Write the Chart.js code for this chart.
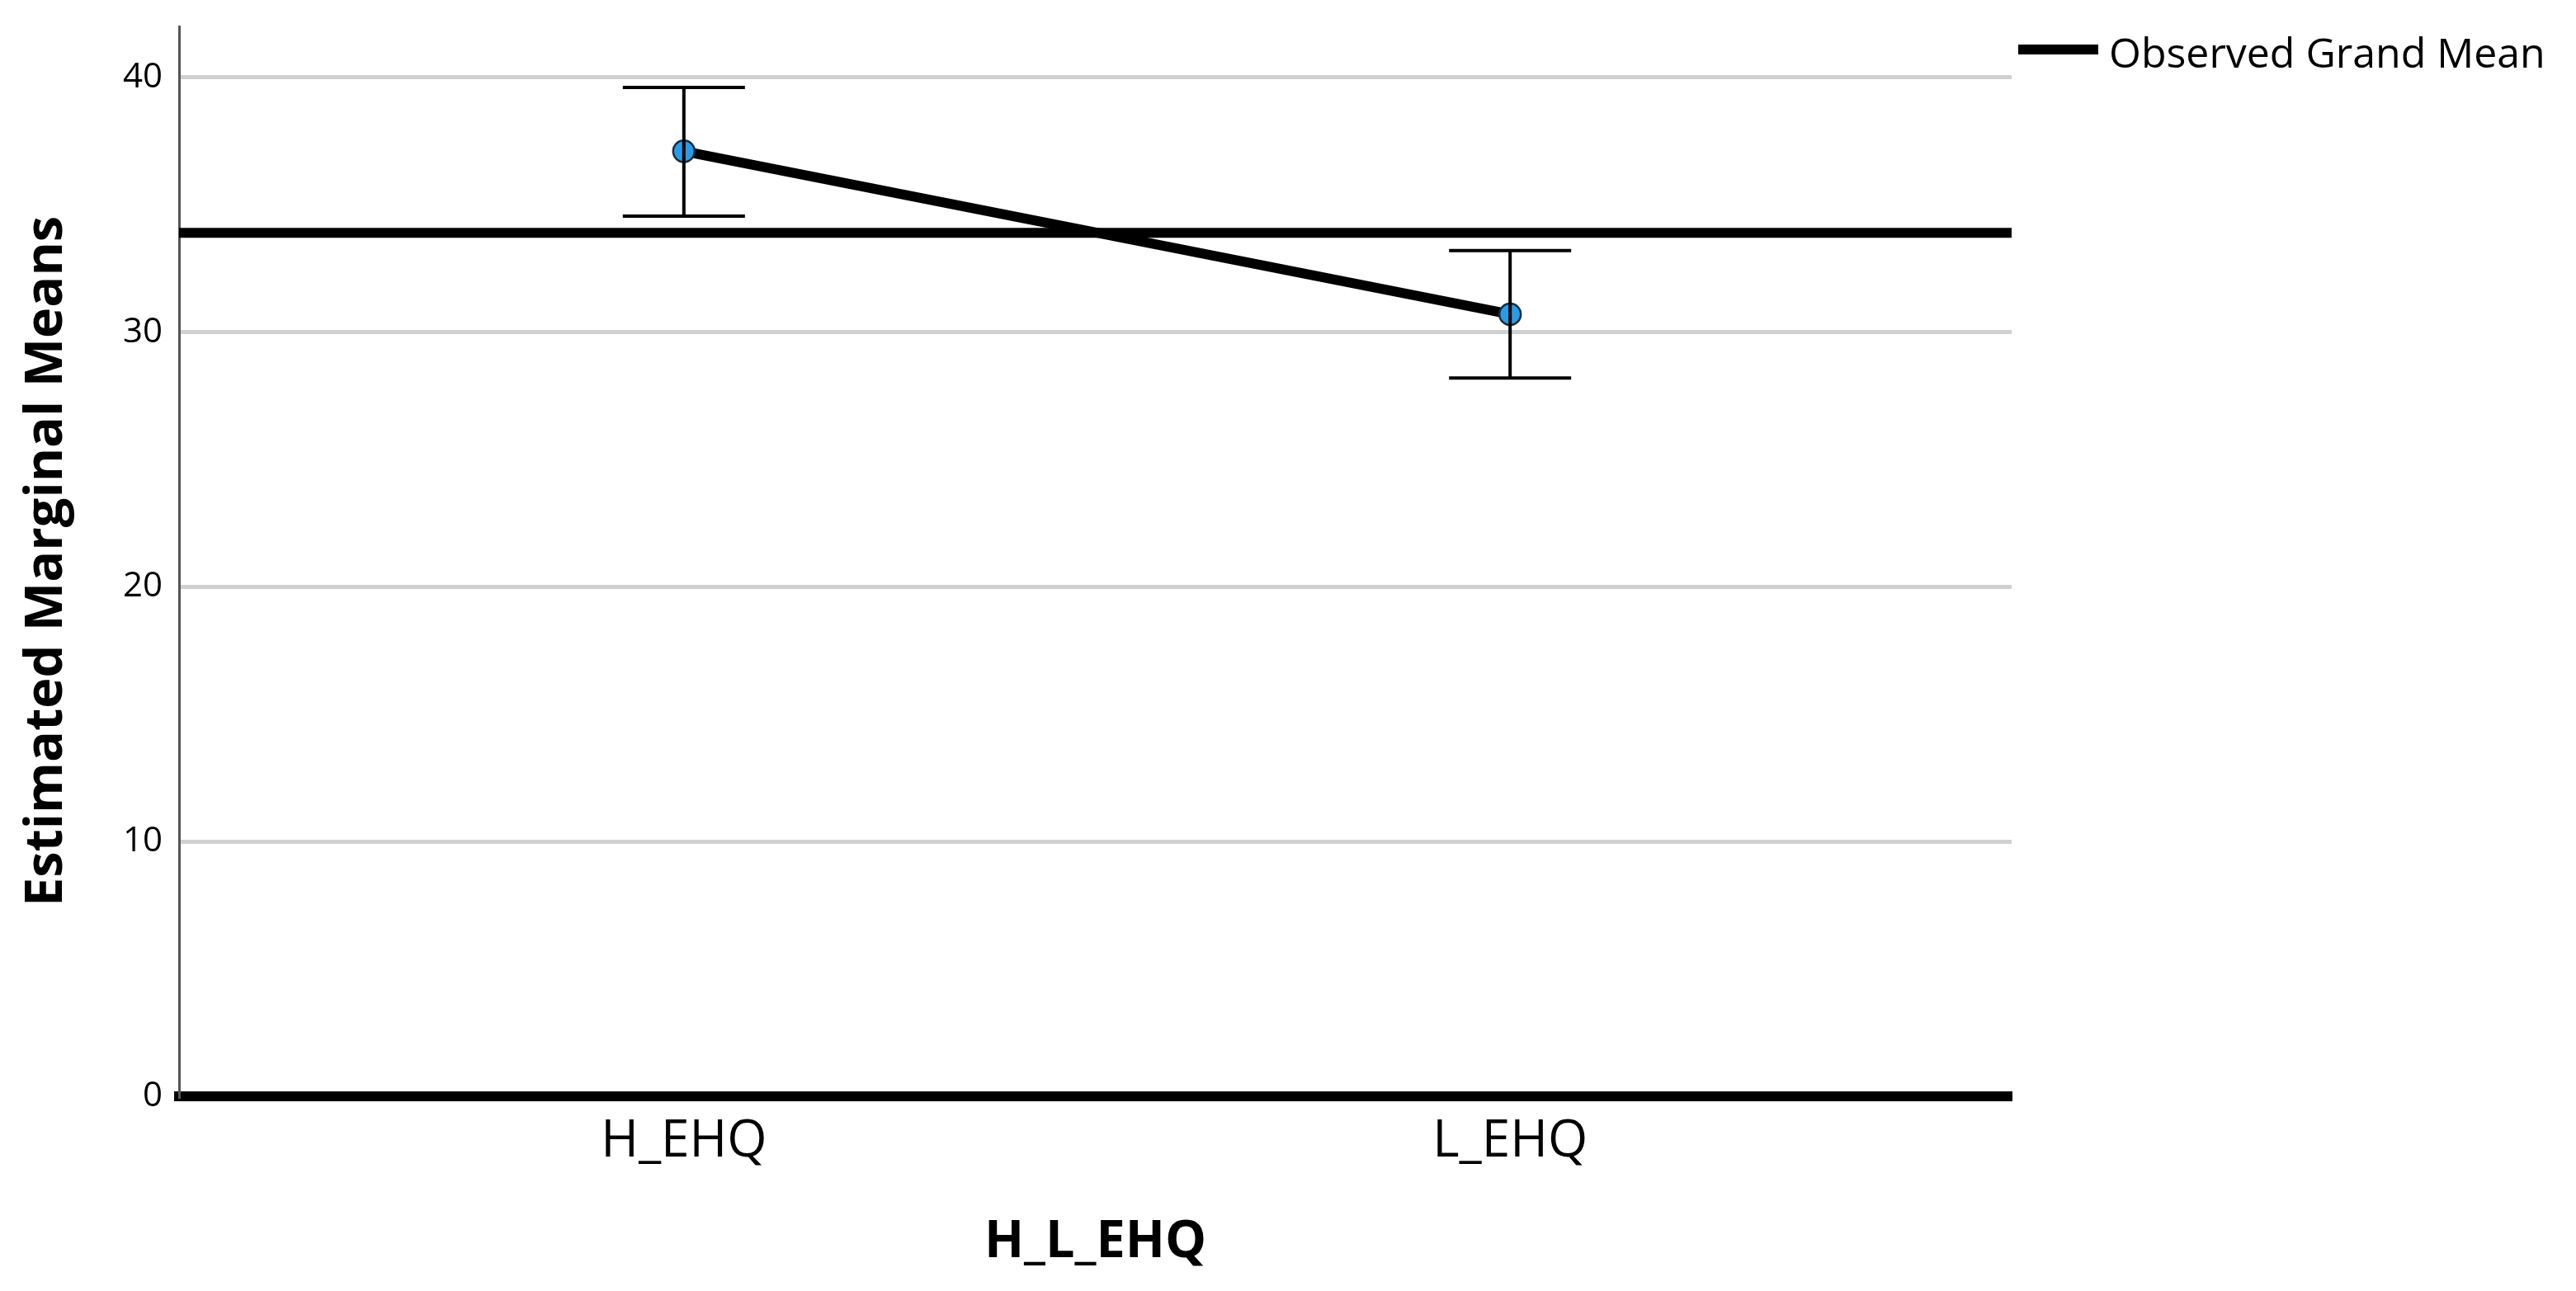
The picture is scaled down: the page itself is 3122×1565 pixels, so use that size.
<!DOCTYPE html>
<html>
<head>
<meta charset="utf-8">
<script src="https://cdn.jsdelivr.net/npm/chart.js@4.4.1/dist/chart.umd.min.js"></script>
<style>
  html, body { margin: 0; padding: 0; background: #fff; }
  #wrap { width: 3122px; height: 1565px; }
</style>
</head>
<body>
<div id="wrap"><canvas id="chart" width="3122" height="1565"></canvas></div>
<script>
// --- data ---
const categories = ['H_EHQ', 'L_EHQ'];
const categoryPos = [0, 1];
const means = [37.1, 30.7];
const upperCI = [39.6, 33.2];
const lowerCI = [34.55, 28.2];
const grandMean = 33.9;
const yTicks = [0, 10, 20, 30, 40];

const xTitle = 'H_L_EHQ';
const yTitle = 'Estimated Marginal Means';
const legendLabel = 'Observed Grand Mean';

// axis ranges (categories sit off-centre in the plot like SPSS does it)
const xMin = -0.611, xMax = 1.607;
const yMin = 0, yMax = 42;

Chart.defaults.font.family = '"Open Sans", "DejaVu Sans", sans-serif';
Chart.defaults.color = '#000';

// error bars, drawn on top of the points
const errorBarPlugin = {
    id: 'errorBars',
    afterDatasetsDraw(chart) {
        const { ctx, scales: { x, y } } = chart;
        ctx.save();
        ctx.strokeStyle = '#000';
        ctx.lineWidth = 4;
        categoryPos.forEach((c, i) => {
            const px = x.getPixelForValue(c);
            const top = y.getPixelForValue(upperCI[i]);
            const bot = y.getPixelForValue(lowerCI[i]);
            ctx.beginPath();
            ctx.moveTo(px, top); ctx.lineTo(px, bot);
            ctx.moveTo(px - 74, top); ctx.lineTo(px + 74, top);
            ctx.moveTo(px - 74, bot); ctx.lineTo(px + 74, bot);
            ctx.stroke();
        });
        ctx.restore();
    }
};

// legend in the right margin
const sideLegendPlugin = {
    id: 'sideLegend',
    afterDraw(chart) {
        const ctx = chart.ctx;
        const ds = chart.data.datasets.find(d => d.label === legendLabel);
        const left = chart.chartArea.right + 8;
        ctx.save();
        ctx.strokeStyle = ds.borderColor;
        ctx.lineWidth = ds.borderWidth;
        ctx.beginPath();
        ctx.moveTo(left, 60);
        ctx.lineTo(left + 97, 60);
        ctx.stroke();
        ctx.font = '50px "Open Sans", "DejaVu Sans", sans-serif';
        ctx.fillStyle = '#000';
        ctx.textBaseline = 'alphabetic';
        ctx.fillText(ds.label, left + 110, 82);
        ctx.restore();
    }
};

new Chart(document.getElementById('chart'), {
    type: 'scatter',
    data: {
        datasets: [
            {
                label: 'Means',
                data: categoryPos.map((c, i) => ({ x: c, y: means[i] })),
                showLine: true,
                borderColor: '#000',
                borderWidth: 12,
                pointRadius: 13,
                pointBackgroundColor: '#2a9be6',
                pointBorderColor: '#1a2b3a',
                pointBorderWidth: 2.5
            },
            {
                label: legendLabel,
                data: [{ x: xMin, y: grandMean }, { x: xMax, y: grandMean }],
                showLine: true,
                borderColor: '#000',
                borderWidth: 12,
                pointRadius: 0
            }
        ]
    },
    options: {
        responsive: false,
        animation: false,
        devicePixelRatio: 1,
        layout: { padding: { top: 32, right: 684, left: 0, bottom: 0 } },
        plugins: {
            legend: { display: false },
            tooltip: { enabled: false }
        },
        scales: {
            x: {
                type: 'linear',
                min: xMin,
                max: xMax,
                afterBuildTicks: s => { s.ticks = categoryPos.map(v => ({ value: v })); },
                afterFit: s => { s.height = 236; s.paddingLeft = 0; s.paddingRight = 0; },
                ticks: {
                    callback: v => categories[categoryPos.indexOf(v)] ?? '',
                    font: { size: 62 },
                    color: '#000',
                    padding: 18,
                    maxRotation: 0,
                    autoSkip: false
                },
                grid: { display: false, drawTicks: false },
                border: { color: '#000', width: 12 },
                title: {
                    display: true,
                    text: xTitle,
                    font: { size: 63, weight: 'bold' },
                    color: '#000',
                    padding: { top: 0, bottom: 21 }
                }
            },
            y: {
                type: 'linear',
                min: yMin,
                max: yMax,
                afterBuildTicks: s => { s.ticks = yTicks.map(v => ({ value: v })); },
                afterFit: s => { s.width = 217; s.paddingTop = 0; s.paddingBottom = 0; },
                ticks: { font: { size: 42 }, color: '#000', padding: 20 },
                grid: { color: '#d0d0d0', lineWidth: 5, drawTicks: false },
                border: { color: '#555', width: 3 },
                title: {
                    display: true,
                    text: yTitle,
                    font: { size: 63, weight: 'bold' },
                    color: '#000',
                    padding: { top: 19, bottom: 0 }
                }
            }
        }
    },
    plugins: [errorBarPlugin, sideLegendPlugin]
});
</script>
</body>
</html>
